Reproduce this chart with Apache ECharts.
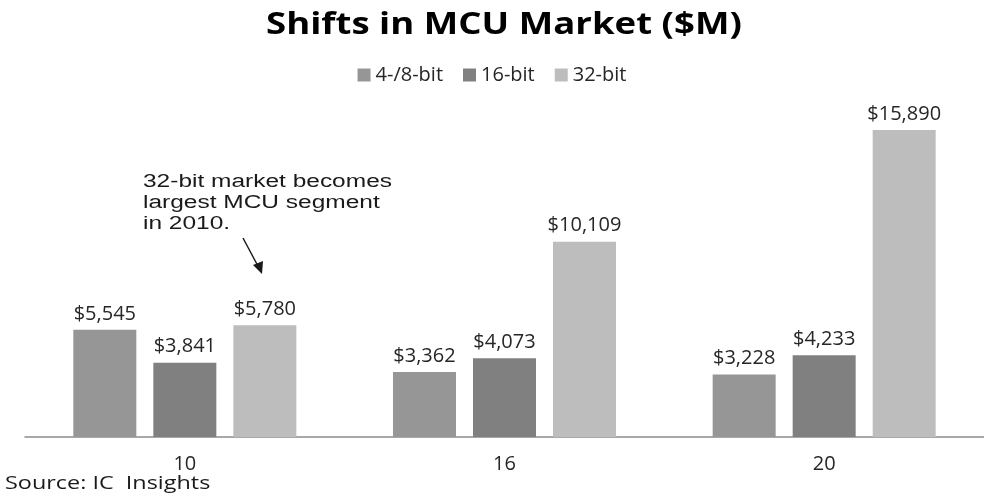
<!DOCTYPE html>
<html>
<head>
<meta charset="utf-8">
<script src="https://cdn.jsdelivr.net/npm/echarts@6/dist/echarts.min.js"></script>
<style>
  html, body { margin: 0; padding: 0; background: #fff; }
  #chart { width: 984px; height: 499px; }
</style>
</head>
<body>
<div id="chart"></div>
<script>
// 数据
const categories = ["10", "16", "20"];
const seriesNames = ["4-/8-bit", "16-bit", "32-bit"];
const bit8 = [5545, 3362, 3228];
const bit16 = [3841, 4073, 4233];
const bit32 = [5780, 10109, 15890];

const colors = ["#969696", "#808080", "#bdbdbd"];
const labelFont = "'Open Sans', sans-serif";

const chart = echarts.init(document.getElementById("chart"));

// 柱子标签格式 $x,xxx
function money(p) {
    return "$" + p.value.toLocaleString("en-US");
}

function barSeries(name, data, color) {
    return {
        name,
        type: "bar",
        data,
        barWidth: 63,
        barGap: "27%",
        itemStyle: { color },
        label: {
            show: true,
            position: "top",
            distance: 6,
            formatter: money,
            color: "#262626",
            fontSize: 20,
            fontFamily: labelFont
        }
    };
}

chart.setOption({
    animation: false,
    legend: {
        top: 60,
        left: "center",
        itemWidth: 13,
        itemHeight: 13,
        itemGap: 20,
        icon: "rect",
        textStyle: { fontSize: 20, color: "#262626", fontFamily: labelFont, padding: [0, 0, 0, 0] },
        data: seriesNames
    },
    grid: { left: 25, right: -3, top: 100, bottom: 62 },
    xAxis: {
        type: "category",
        data: categories,
        axisLine: { lineStyle: { color: "#8c8c8c", width: 1.5 } },
        axisTick: { show: false },
        axisLabel: { color: "#262626", fontSize: 20, fontFamily: labelFont, margin: 17 }
    },
    yAxis: {
        type: "value",
        min: 0,
        max: 17440,
        show: false,
        splitLine: { show: false }
    },
    series: [
        barSeries(seriesNames[0], bit8, colors[0]),
        barSeries(seriesNames[1], bit16, colors[1]),
        barSeries(seriesNames[2], bit32, colors[2])
    ],
    graphic: [
        {
            // 标题（原图横向拉伸）
            type: "text",
            x: 266,
            y: 10,
            scaleX: 1.18,
            style: {
                text: "Shifts in MCU Market ($M)",
                font: "bold 31px 'Open Sans', sans-serif",
                fill: "#000"
            }
        },
        {
            type: "text",
            x: 143,
            y: 172,
            scaleX: 1.36,
            style: {
                text: "32-bit market becomes\nlargest MCU segment\nin 2010.",
                font: "18px 'Liberation Sans', Arial, sans-serif",
                fill: "#1a1a1a",
                lineHeight: 21
            }
        },
        {
            type: "line",
            shape: { x1: 243, y1: 238, x2: 259, y2: 268 },
            style: { stroke: "#1a1a1a", lineWidth: 1.5 }
        },
        {
            type: "polygon",
            shape: { points: [[262, 274], [253, 265], [263, 261]] },
            style: { fill: "#1a1a1a" }
        },
        {
            type: "text",
            x: 5,
            y: 475,
            scaleX: 1.3,
            style: {
                text: "Source: IC  Insights",
                font: "18px 'Open Sans', sans-serif",
                fill: "#1a1a1a"
            }
        }
    ]
});
</script>
</body>
</html>
